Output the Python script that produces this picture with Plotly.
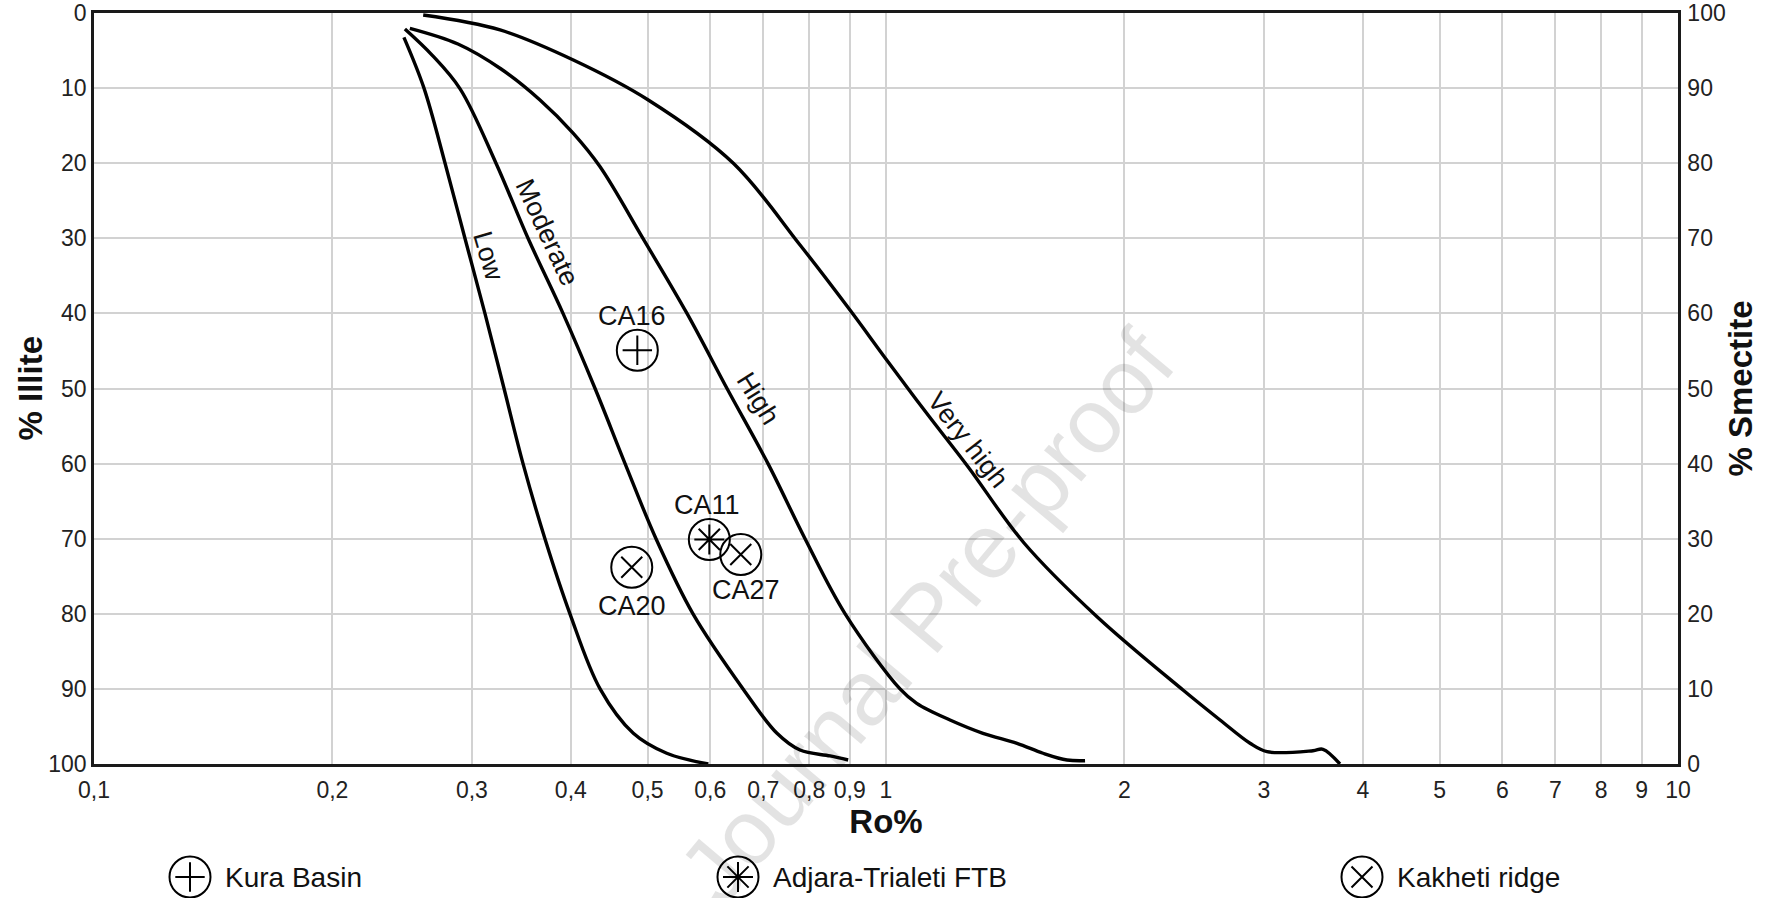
import numpy as np
import plotly.graph_objects as go

FONT = "Liberation Sans, Arial, sans-serif"

# ---- Data ----
low_ro = [0.2462, 0.2610, 0.2775, 0.2940, 0.3116, 0.3294, 0.3481, 0.3710, 0.3990, 0.4355, 0.4797, 0.5286, 0.5966]
low_illite = [3.24, 10, 20, 30, 40, 50, 60, 70, 80, 90, 95.91, 98.57, 100]

moderate_ro = [0.2469, 0.2672, 0.2899, 0.3218, 0.3532, 0.3910, 0.4292, 0.4683, 0.5124, 0.5706, 0.6600, 0.7284, 0.7789, 0.8501, 0.8958]
moderate_illite = [2.13, 5.6, 10.1, 20, 30, 40, 50, 60, 70, 80, 90, 95.91, 98.14, 98.93, 99.47]

high_ro = [0.2505, 0.2881, 0.3266, 0.3657, 0.4029, 0.4355, 0.4933, 0.5607, 0.6299, 0.7096, 0.7903, 0.8880, 1.0416, 1.0934, 1.2045, 1.3256, 1.4637, 1.5787, 1.6927, 1.7837]
high_illite = [2.04, 4.13, 7.46, 11.58, 16.02, 20.47, 30, 40, 50, 60, 70, 80, 90, 91.92, 94.14, 95.91, 97.24, 98.57, 99.47, 99.56]

veryhigh_ro = [0.2604, 0.3256, 0.4029, 0.5010, 0.6416, 0.7789, 0.9006, 1.0020, 1.1256, 1.2692, 1.4938, 1.8470, 2.3714, 2.6410, 2.8817, 3.0275, 3.4603, 3.5624, 3.7425]
veryhigh_illite = [0.27, 2.26, 6.26, 11.58, 20.01, 30.89, 39.55, 46.2, 53.30, 60.41, 70.57, 80.39, 90.15, 94.14, 97.24, 98.36, 98.23, 98.04, 100]

curve_names = ["Low", "Moderate", "High", "Very high"]
curve_label_ro = [0.3146, 0.373, 0.690, 1.27]
curve_label_illite = [32.4, 29.2, 51.4, 56.8]
curve_label_angle = [74, 65, 58, 52]

sample_ids = ["CA16", "CA11", "CA27", "CA20"]
sample_ro = [0.4853, 0.5983, 0.6556, 0.4775]
sample_illite = [44.9, 70.1, 72.1, 73.8]
sample_group = ["Kura Basin", "Adjara-Trialeti FTB", "Kakheti ridge", "Kakheti ridge"]

groups = ["Kura Basin", "Adjara-Trialeti FTB", "Kakheti ridge"]
group_inner_symbol = {"Kura Basin": "cross-thin-open", "Adjara-Trialeti FTB": "asterisk-open", "Kakheti ridge": "x-thin-open"}
group_inner_size = {"Kura Basin": 21, "Adjara-Trialeti FTB": 25, "Kakheti ridge": 21}

x_tickvals = [0.1, 0.2, 0.3, 0.4, 0.5, 0.6, 0.7, 0.8, 0.9, 1, 2, 3, 4, 5, 6, 7, 8, 9, 10]
x_ticktext = ["0,1", "0,2", "0,3", "0,4", "0,5", "0,6", "0,7", "0,8", "0,9", "1", "2", "3", "4", "5", "6", "7", "8", "9", "10"]
illite_ticks = list(range(0, 101, 10))

# ---- Figure ----
W, H = 1765, 898
ML, MR, MT, MB = 94, 87, 13, 0
plot_w = W - ML - MR
plot_h = H - MT - MB
plot_bottom_px = 764
main_dom0 = (H - plot_bottom_px) / plot_h

fig = go.Figure()

for xs, ys in [(low_ro, low_illite), (moderate_ro, moderate_illite), (high_ro, high_illite), (veryhigh_ro, veryhigh_illite)]:
    fig.add_trace(go.Scatter(x=xs, y=ys, mode="lines",
                             line=dict(color="black", width=3.4, shape="spline", smoothing=1.0),
                             showlegend=False, hoverinfo="skip"))

# sample markers: open circle + inner symbol
for g in groups:
    xs = [x for x, gg in zip(sample_ro, sample_group) if gg == g]
    ys = [y for y, gg in zip(sample_illite, sample_group) if gg == g]
    fig.add_trace(go.Scatter(x=xs, y=ys, mode="markers",
                             marker=dict(symbol="circle-open", size=41, color="black", line=dict(width=2, color="black")),
                             showlegend=False, hoverinfo="skip"))
    fig.add_trace(go.Scatter(x=xs, y=ys, mode="markers",
                             marker=dict(symbol=group_inner_symbol[g], size=group_inner_size[g], color="black",
                                         line=dict(width=2, color="black")),
                             showlegend=False, hoverinfo="skip"))

# invisible trace to activate right axis
fig.add_trace(go.Scatter(x=[1], y=[50], yaxis="y2", mode="markers", marker=dict(opacity=0),
                         showlegend=False, hoverinfo="skip"))

# custom legend row (helper axes in pixel units)
legend_sym_x = [96, 644, 1268]
legend_y = 21
for g, lx in zip(groups, legend_sym_x):
    fig.add_trace(go.Scatter(x=[lx], y=[legend_y], xaxis="x3", yaxis="y3", mode="markers",
                             marker=dict(symbol="circle-open", size=41, color="black", line=dict(width=2, color="black")),
                             showlegend=False, hoverinfo="skip"))
    fig.add_trace(go.Scatter(x=[lx], y=[legend_y], xaxis="x3", yaxis="y3", mode="markers",
                             marker=dict(symbol=group_inner_symbol[g], size=group_inner_size[g], color="black",
                                         line=dict(width=2, color="black")),
                             showlegend=False, hoverinfo="skip"))
    fig.add_annotation(x=lx + 33, y=legend_y, xref="x3", yref="y3", text=g, showarrow=False,
                       xanchor="left", yanchor="middle", font=dict(family=FONT, size=28, color="#111"))

# curve labels
for name, cx, cy, ang in zip(curve_names, curve_label_ro, curve_label_illite, curve_label_angle):
    fig.add_annotation(x=np.log10(cx), y=cy, xref="x", yref="y", text=name, showarrow=False,
                       textangle=ang, xanchor="center", yanchor="middle",
                       font=dict(family=FONT, size=27, color="#111"))

# sample labels
label_shift = {"CA16": (-5, 34), "CA11": (-2, 34), "CA27": (5, -36), "CA20": (0, -39)}
for sid, sx, sy in zip(sample_ids, sample_ro, sample_illite):
    dx, dy = label_shift[sid]
    fig.add_annotation(x=np.log10(sx), y=sy, xref="x", yref="y", text=sid, showarrow=False,
                       xshift=dx, yshift=dy, xanchor="center", yanchor="middle",
                       font=dict(family=FONT, size=27, color="#111"))

# left axis title (placed precisely)
fig.add_annotation(x=(30 - ML) / plot_w, y=(main_dom0 + 1) / 2, xref="paper", yref="paper",
                   text="<b>% Illite</b>", showarrow=False, textangle=-90,
                   xanchor="center", yanchor="middle", font=dict(family=FONT, size=33, color="#111"))

# watermark
fig.add_annotation(x=(926 - ML) / plot_w, y=(H - 617) / plot_h, xref="paper", yref="paper",
                   text="Journal Pre-proof", showarrow=False, textangle=-50,
                   xanchor="center", yanchor="middle",
                   font=dict(family=FONT, size=92, color="rgba(0,0,0,0.11)"))

axis_common = dict(showline=True, linecolor="#1a1a1a", linewidth=2.5, ticks="", automargin=False,
                   tickfont=dict(family=FONT, size=23, color="#222"))

fig.update_layout(
    width=W, height=H,
    margin=dict(l=ML, r=MR, t=MT, b=MB, pad=0, autoexpand=False),
    paper_bgcolor="white", plot_bgcolor="white",
    showlegend=False,
    font=dict(family=FONT, color="#111"),
    xaxis=dict(type="log", range=[-1, 1], domain=[0, 1], anchor="y",
               tickvals=x_tickvals, ticktext=x_ticktext, mirror=True,
               showgrid=True, gridcolor="#d2d2d2", gridwidth=2, zeroline=False,
               ticklabelstandoff=4,
               title=dict(text="Ro%", font=dict(family=FONT, size=33, color="#111", weight="bold"), standoff=8),
               **axis_common),
    yaxis=dict(range=[100, 0], domain=[main_dom0, 1], anchor="x", tickvals=illite_ticks,
               showgrid=True, gridcolor="#d2d2d2", gridwidth=2, zeroline=False, mirror=False,
               ticklabelstandoff=0,
               **axis_common),
    yaxis2=dict(range=[0, 100], overlaying="y", side="right", anchor="x", tickvals=illite_ticks,
                showgrid=False, zeroline=False, ticklabelstandoff=2,
                title=dict(text="% Smectite", font=dict(family=FONT, size=33, color="#111", weight="bold"), standoff=5),
                **axis_common),
    xaxis3=dict(domain=[0, 1], range=[0, plot_w], anchor="y3", visible=False, fixedrange=True),
    yaxis3=dict(domain=[0, 0.1], range=[0, 0.1 * plot_h], anchor="x3", visible=False, fixedrange=True),
)

fig.write_html("out.html")
